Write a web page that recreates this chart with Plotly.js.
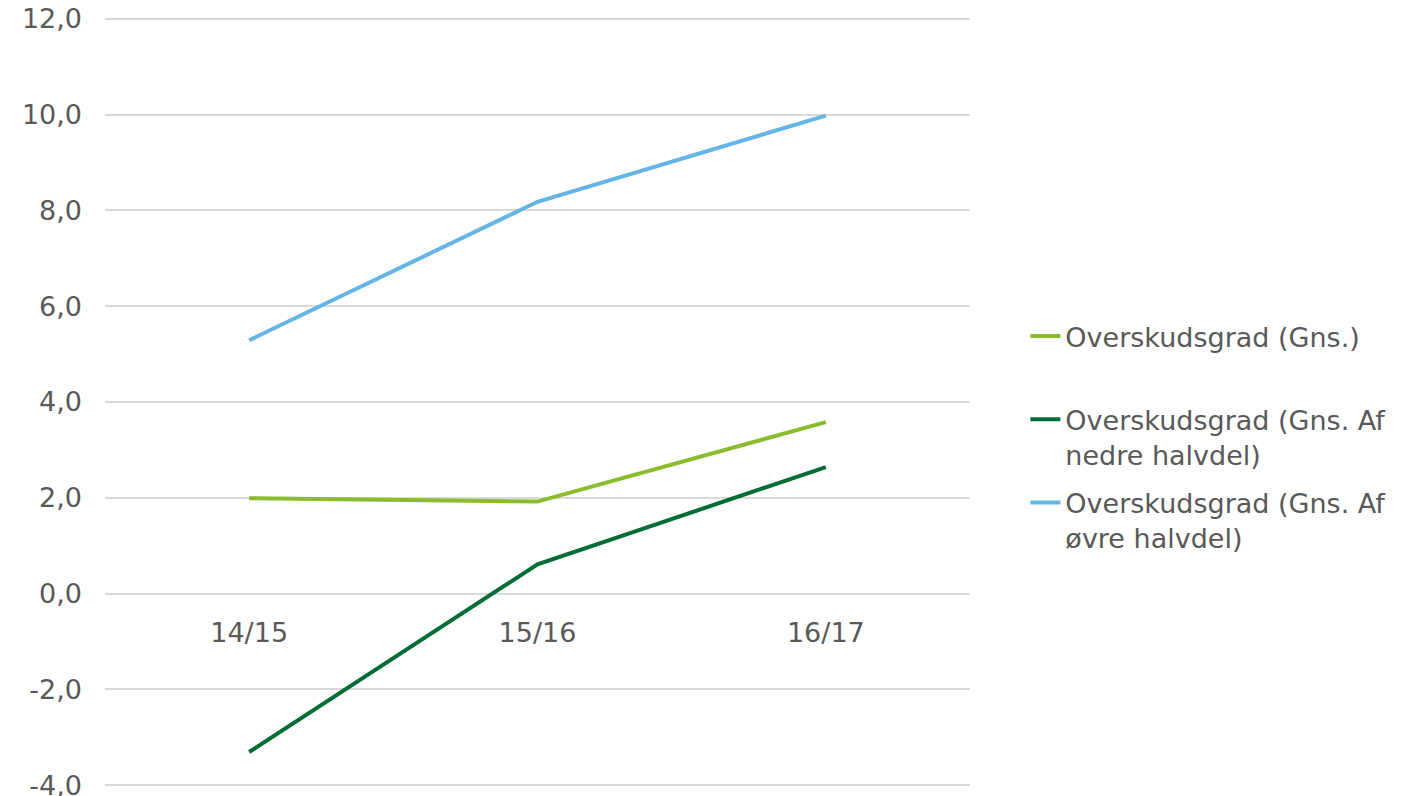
<!DOCTYPE html>
<html>
<head>
<meta charset="utf-8">
<script src="https://cdn.plot.ly/plotly-3.0.1.min.js"></script>
<style>html,body{margin:0;padding:0;background:#fff;}#chart{width:1420px;height:796px;}</style>
</head>
<body>
<div id="chart"></div>
<script>
const categories = ["14/15", "15/16", "16/17"];
const seriesNames = [
  "Overskudsgrad (Gns.)<br> ",
  "Overskudsgrad (Gns. Af<br>nedre halvdel)",
  "Overskudsgrad (Gns. Af<br>øvre halvdel)"
];
const gnsValues = [1.99, 1.92, 3.58];
const nedreValues = [-3.31, 0.61, 2.64];
const oevreValues = [5.29, 8.18, 9.98];
const seriesColors = ["#8BBC2B", "#006D36", "#64B5E5"];
const yTickValues = [-4, -2, 0, 2, 4, 6, 8, 10, 12];
const yTickLabels = yTickValues.map(v => v.toFixed(1).replace(".", ","));

const fontFamily = "'DejaVu Sans', Verdana, sans-serif";
const textColor = "#595959";

const values = [gnsValues, nedreValues, oevreValues];
const traces = values.map((v, i) => ({
  type: "scatter",
  mode: "lines",
  x: categories,
  y: v,
  name: seriesNames[i],
  legendgroup: "g" + i,
  line: {color: seriesColors[i], width: 4},
  hoverinfo: "skip"
}));

const yMin = -4.04, yMax = 12.06;

const layout = {
  width: 1420,
  height: 796,
  margin: {l: 105, r: 450, t: 16, b: 9, pad: 0},
  paper_bgcolor: "#ffffff",
  plot_bgcolor: "#ffffff",
  font: {family: fontFamily, size: 27, color: textColor},
  showlegend: true,
  legend: {
    x: 1.064, xanchor: "left",
    y: 0.616, yanchor: "top",
    valign: "top",
    tracegroupgap: 10,
    font: {family: fontFamily, size: 27, color: textColor},
    bgcolor: "rgba(0,0,0,0)"
  },
  xaxis: {
    type: "category",
    range: [-0.5, 2.5],
    anchor: "free",
    position: (0 - yMin) / (yMax - yMin),
    showgrid: false,
    zeroline: false,
    showline: false,
    ticks: "",
    ticklabelstandoff: 20,
    tickfont: {family: fontFamily, size: 27, color: textColor},
    fixedrange: true
  },
  yaxis: {
    range: [yMin, yMax],
    tickmode: "array",
    tickvals: yTickValues,
    ticktext: yTickLabels,
    ticklabeloverflow: "allow",
    showgrid: true,
    gridcolor: "#d9d9d9",
    gridwidth: 2,
    zeroline: false,
    showline: false,
    ticks: "",
    ticklabelstandoff: 22,
    tickfont: {family: fontFamily, size: 27, color: textColor},
    fixedrange: true
  }
};

Plotly.newPlot("chart", traces, layout, {displayModeBar: false, staticPlot: true});
</script>
</body>
</html>
